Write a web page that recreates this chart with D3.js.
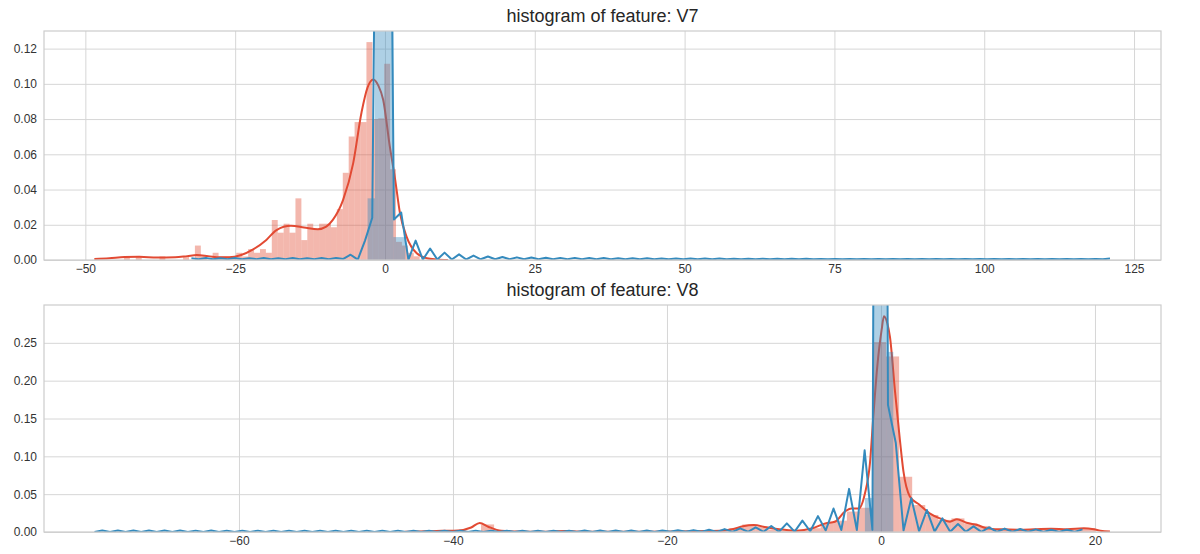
<!DOCTYPE html>
<html><head><meta charset="utf-8">
<script src="https://cdn.jsdelivr.net/npm/d3@7"></script>
<style>
body{margin:0;background:#fff}
svg{display:block}
text{font-family:"Liberation Sans",Arial,"DejaVu Sans",sans-serif}
</style>
</head><body>
<svg id="chart" width="1200" height="554"></svg>
<script>
// ---------------- DATA ----------------
const fraudColor = "#E24A33", normalColor = "#348ABD";

// V7 panel
const v7Title = "histogram of feature: V7";
const v7XTicks = [-50, -25, 0, 25, 50, 75, 100, 125];
const v7YTicks = [0, 0.02, 0.04, 0.06, 0.08, 0.10, 0.12];
const v7FraudBinStart = -43.56, v7FraudBinWidth = 0.987;
const v7FraudHist = [
  0.002,0,0.002,0,0,0,0.002,0,0,0,
  0.002,0,0.0082,0.002,0,0.0041,0.002,0.002,0.002,0.0041,
  0.002,0.0062,0.0041,0.0062,0.0041,0.0227,0.0155,0.0206,0.0155,0.035,
  0.0113,0.0206,0.0175,0.0206,0.0206,0.0186,0.0289,0.0495,0.0701,0.0783,
  0.0783,0.1237,0.080,0.0804,0.1114,0.0515,0.0103,0.0082,0.0041,0.0021];
const v7FraudKdeX = [-48.5,-46,-43.5,-41,-38,-35,-33,-31.4,-29.5,-27.5,-26,-24,-22,-19.8,-18.1,-15.7,-13.5,-11.2,-9.8,-8.7,-7,-5.3,-3.9,-2.9,-1.95,-1.1,-0.3,0.8,1.7,2.5,3.6,5.3,7,8.5,10.5];
const v7FraudKdeY = [0.0006,0.001,0.0017,0.0018,0.0014,0.0015,0.0022,0.0028,0.0022,0.0015,0.0015,0.0028,0.006,0.0114,0.017,0.0194,0.0185,0.0175,0.019,0.0228,0.034,0.055,0.084,0.098,0.1025,0.099,0.091,0.0646,0.0456,0.0267,0.0133,0.0038,0.001,0.0003,0.0];
const v7NormalBarEdges = [-2.9, -1.67, 1.39, 3.4];
const v7NormalBarHeights = [0.035, 0.6, 0.013];
const v7NormalKdeStart = -32.3, v7NormalKdeStep = 1.207;
const v7NormalKde = [
  0.0010,0.0005,0.0011,0.0004,0.0010,0.0005,0.0011,0.0004,0.0010,0.0005,
  0.0011,0.0004,0.0010,0.0005,0.0011,0.0004,0.0010,0.0005,0.0011,0.0004,
  0.0012,0.0006,
  0.0030,0.0002,0.0110,0.0240,0.4500,0.5000,0.0230,0.0270,0.0002,0.0110,
  0.0002,0.0065,0.0003,0.0042,0.0003,0.0032,0.0003,0.0025,0.0004,0.0020,
  0.0004,0.0017,0.0004,0.0015,
  0.0004,0.0014,0.0004,0.0013,0.0004,0.0012,0.0004,0.0012,0.0004,0.0011,
  0.0004,0.0011,0.0004,0.0010,0.0004,0.0010,0.0004,0.0010,0.0004,0.0009,
  0.0004,0.0009,0.0004,0.0008,0.0004,0.0008,0.0004,0.0008,0.0004,0.0007,
  0.0004,0.0007,0.0004,0.0007,0.0004,0.0007,0.0004,0.0007,0.0004,0.0007,
  0.0004,0.0006,0.0004,0.0006,0.0004,0.0006,0.0004,0.0006,0.0004,0.0006,
  0.0004,0.0006,0.0004,0.0006,0.0004,0.0006,0.0004,0.0006,0.0004,0.0006,
  0.0004,0.0006,0.0004,0.0006,0.0004,0.0006,0.0004,0.0006,0.0004,0.0006,
  0.0004,0.0006,0.0004,0.0006,0.0004,0.0006,0.0004,0.0006,0.0004,0.0006,
  0.0004,0.0008];

// V8 panel
const v8Title = "histogram of feature: V8";
const v8XTicks = [-60, -40, -20, 0, 20];
const v8YTicks = [0, 0.05, 0.10, 0.15, 0.20, 0.25];
const v8FraudBinStart = -41.04, v8FraudBinWidth = 1.221;
const v8FraudHist = [
  0.0017,0.0017,0,0.010,0.0017,0,0,0,0,0.0017,
  0,0,0,0,0,0,0,0,0,0,
  0.0017,0.0017,0.005,0.010,0.007,0.0033,0.0017,0.0017,0.005,0.012,
  0.015,0.027,0.032,0.251,0.232,0.073,0.0357,0.0225,0.016,0.018,
  0.0115,0.008,0.0033,0.0033,0.0033,0.0033,0.005,0.0033,0.0033,0.005];
const v8FraudKdeX = [-44.5,-42.5,-41,-39.5,-38.3,-37.5,-36.7,-35.5,-34,-32,-29.5,-28.5,-26,-22,-19,-16.3,-15,-13.8,-12.9,-11.9,-10.7,-9.5,-7.9,-6.4,-5.2,-4.3,-3.37,-2.75,-2.1,-1.5,-1.03,-0.72,-0.35,0.06,0.28,0.59,0.84,1.3,1.77,2.1,2.7,3.6,4.55,5.5,6.45,7.1,8.0,9.0,9.9,11.2,12.8,14.3,15.9,17.4,18.96,19.9,20.5,21.4];
const v8FraudKdeY = [0.0002,0.001,0.0015,0.002,0.006,0.012,0.007,0.0015,0.0005,0.0003,0.0012,0.0008,0.0003,0.0003,0.0005,0.0012,0.0015,0.004,0.0075,0.0092,0.0062,0.0035,0.0018,0.005,0.0114,0.0136,0.027,0.031,0.031,0.051,0.091,0.152,0.218,0.267,0.285,0.276,0.258,0.1876,0.1215,0.08,0.047,0.036,0.0247,0.018,0.0137,0.017,0.0123,0.0092,0.0048,0.0035,0.003,0.0035,0.0043,0.0035,0.0048,0.0035,0.0018,0.0005];
const v8NormalBarEdges = [-1.5, -0.72, 0.55, 1.15];
const v8NormalBarHeights = [0.045, 2.0, 0.238];
const v8NormalKdeStart = -73.5, v8NormalKdeStep = 0.727;
const v8NormalKde = [
  0.0001,0.0020,0.0001,0.0019,0.0001,0.0020,0.0001,0.0019,0.0001,0.0019,
  0.0001,0.0019,0.0001,0.0018,0.0001,0.0019,0.0001,0.0018,0.0001,0.0018,
  0.0001,0.0018,0.0001,0.0018,0.0001,0.0018,0.0001,0.0018,0.0001,0.0018,
  0.0001,0.0018,0.0001,0.0018,0.0001,0.0018,0.0001,0.0018,0.0001,0.0018,
  0.0001,0.0018,0.0001,0.0018,0.0001,0.0018,0.0001,0.0018,0.0001,0.0018,
  0.0001,0.0018,0.0001,0.0018,0.0001,0.0018,0.0001,0.0018,0.0001,0.0018,
  0.0001,0.0018,0.0001,0.0019,0.0001,0.0019,0.0001,0.0019,0.0001,0.0019,
  0.0001,0.0019,
  0.0001,0.0020,0.0002,0.0022,0.0002,0.0025,0.0002,0.0030,0.0002,0.0038,
  0.0002,0.0048,0.0003,0.0062,0.0003,0.0080,0.0004,0.0114,0.0005,0.0150,
  0.0010,0.0210,0.0020,0.0310,0.0026,0.0570,0.0026,0.1080,
  0.0030,2.7000,0.1680,0.1180,0.0020,0.0445,0.0010,0.0290,0.0005,0.0180,
  0.0003,0.0105,0.0003,0.0075,0.0002,0.0060,0.0002,0.0045,0.0002,0.0040,
  0.0002,0.0035,0.0002,0.0030,0.0002,0.0030,0.0002,0.0035];

// ---------------- DRAW ----------------
const svg = d3.select("#chart");
const fmtX = d => d < 0 ? "\u2212" + Math.abs(d) : String(d);
const fmtY = d3.format(".2f");

function panel(id, box, xDomain, yDomain, xTicks, yTicks, title,
               fStart, fWidth, fHist, fKx, fKy,
               nEdges, nHeights, nStart, nStep, nKde) {
  const x = d3.scaleLinear().domain(xDomain).range([box.l, box.r]);
  const y = d3.scaleLinear().domain(yDomain).range([box.b, box.t]);
  const g = svg.append("g");

  g.append("clipPath").attr("id", "clip" + id)
    .append("rect").attr("x", box.l).attr("y", box.t)
    .attr("width", box.r - box.l).attr("height", box.b - box.t);

  const xa = g.append("g").attr("transform", `translate(0,${box.b})`)
    .call(d3.axisBottom(x).tickValues(xTicks).tickFormat(fmtX)
      .tickSize(-(box.b - box.t)).tickPadding(4));
  const ya = g.append("g").attr("transform", `translate(${box.l},0)`)
    .call(d3.axisLeft(y).tickValues(yTicks).tickFormat(fmtY)
      .tickSize(-(box.r - box.l)).tickPadding(7));
  [xa, ya].forEach(a => {
    a.select(".domain").remove();
    a.selectAll("line").attr("stroke", "#d6d6d6").attr("stroke-width", 1);
    a.selectAll("text").attr("fill", "#333").style("font-size", "12px");
  });

  const plot = g.append("g").attr("clip-path", `url(#clip${id})`);

  plot.selectAll(".fb").data(fHist).enter().append("rect")
    .attr("x", (d, i) => x(fStart + i * fWidth))
    .attr("width", (d, i) => x(fStart + (i + 1) * fWidth) - x(fStart + i * fWidth))
    .attr("y", d => y(d)).attr("height", d => y(0) - y(d))
    .attr("fill", fraudColor).attr("fill-opacity", 0.4);

  const fPts = fKx.map((v, i) => [v, fKy[i]]);
  plot.append("path").datum(fPts)
    .attr("d", d3.line().x(d => x(d[0])).y(d => y(d[1])).curve(d3.curveMonotoneX))
    .attr("fill", "none").attr("stroke", fraudColor).attr("stroke-width", 2);

  plot.selectAll(".nb").data(nHeights).enter().append("rect")
    .attr("x", (d, i) => x(nEdges[i]))
    .attr("width", (d, i) => x(nEdges[i + 1]) - x(nEdges[i]))
    .attr("y", d => y(d)).attr("height", d => y(0) - y(d))
    .attr("fill", normalColor).attr("fill-opacity", 0.4);

  const nPts = nKde.map((v, i) => [nStart + i * nStep, v]);
  plot.append("path").datum(nPts)
    .attr("d", d3.line().x(d => x(d[0])).y(d => y(d[1])))
    .attr("fill", "none").attr("stroke", normalColor).attr("stroke-width", 2)
    .attr("stroke-linejoin", "round");

  g.append("rect").attr("x", box.l).attr("y", box.t)
    .attr("width", box.r - box.l).attr("height", box.b - box.t)
    .attr("fill", "none").attr("stroke", "#cccccc").attr("stroke-width", 1.2);

  g.append("text").attr("x", (box.l + box.r) / 2).attr("y", box.t - 9)
    .attr("text-anchor", "middle").attr("fill", "#262626")
    .style("font-size", "18px").text(title);
}

panel("a", {l: 44, r: 1161, t: 31, b: 260}, [-56.9, 129.5], [0, 0.13],
  v7XTicks, v7YTicks, v7Title,
  v7FraudBinStart, v7FraudBinWidth, v7FraudHist, v7FraudKdeX, v7FraudKdeY,
  v7NormalBarEdges, v7NormalBarHeights, v7NormalKdeStart, v7NormalKdeStep, v7NormalKde);

panel("b", {l: 44, r: 1161, t: 305, b: 532}, [-78.22, 26.17], [0, 0.3],
  v8XTicks, v8YTicks, v8Title,
  v8FraudBinStart, v8FraudBinWidth, v8FraudHist, v8FraudKdeX, v8FraudKdeY,
  v8NormalBarEdges, v8NormalBarHeights, v8NormalKdeStart, v8NormalKdeStep, v8NormalKde);
</script>
</body></html>
